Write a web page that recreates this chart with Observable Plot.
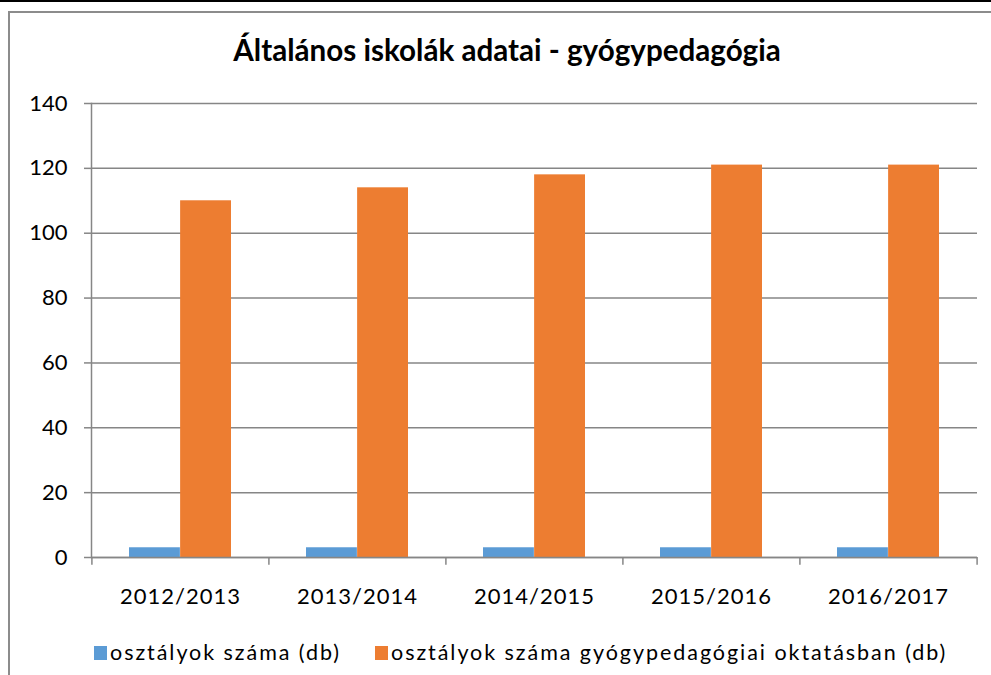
<!DOCTYPE html>
<html><head><meta charset="utf-8">
<script src="https://cdn.jsdelivr.net/npm/d3@7"></script>
<script src="https://cdn.jsdelivr.net/npm/@observablehq/plot@0.6"></script>
<style>
body{margin:0;background:#fff;font-family:Lato,"Open Sans",sans-serif;color:#000;overflow:hidden;}
#wrap{position:relative;width:991px;height:675px;overflow:hidden;background:#fff;}
#topline{position:absolute;left:0;top:0;width:991px;height:2px;background:#000;}
#frame{position:absolute;left:8px;top:11px;width:1000px;height:700px;border-left:2px solid #8c8c8c;border-top:2px solid #8c8c8c;}
#title{position:absolute;left:0;width:1014px;top:32px;text-align:center;font-weight:bold;font-size:29.6px;}
#chart{position:absolute;left:0;top:90px;}
#legend{position:absolute;top:639px;left:94px;font-size:21.5px;white-space:nowrap;letter-spacing:1.95px;}
#legend span.sw{display:inline-block;width:13px;height:14px;margin-right:3px;vertical-align:0px;}
#legend span.it{margin-right:34px;}
.ax text{letter-spacing:1px;}
</style></head>
<body>
<div id="wrap">
<div id="topline"></div>
<div id="frame"></div>
<div id="title">Általános iskolák adatai - gyógypedagógia</div>
<div id="chart"></div>
<div id="legend"></div>
</div>
<script>
const categories = ["2012/2013","2013/2014","2014/2015","2015/2016","2016/2017"];
const seriesNames = ["osztályok száma (db)","osztályok száma gyógypedagógiai oktatásban (db)"];
const osztalyok = [3,3,3,3,3];
const gyogyped = [110,114,118,121,121];
const yTicks = [0,20,40,60,80,100,120,140];
const colors = ["#5B9BD5","#ED7D31"];

const W = 991, H = 530, mL = 91, mR = 14, mT = 13, mB = 63;
const step = (W - mL - mR) / categories.length;
const gray = "#868686";

const d1 = categories.map((c,i)=>({cat:c, v:osztalyok[i]}));
const d2 = categories.map((c,i)=>({cat:c, v:gyogyped[i]}));
const bw = step*(1-0.423);

const plot = Plot.plot({
  width: W, height: H,
  marginLeft: mL, marginRight: mR, marginTop: mT, marginBottom: mB,
  style:{fontFamily:"Lato, 'Open Sans', sans-serif", fontSize:"22px", color:"#000", background:"transparent"},
  x:{type:"band", domain:categories, paddingInner:0.423, paddingOuter:0.2115, label:null},
  y:{domain:[0,140], ticks:yTicks, label:null},
  marks:[
    Plot.gridY(yTicks, {stroke:gray, strokeOpacity:1, strokeWidth:1.5}),
    Plot.barY(d1, {x:"cat", y:"v", fill:colors[0], insetRight: bw/2}),
    Plot.barY(d2, {x:"cat", y:"v", fill:colors[1], insetLeft: bw/2}),
    Plot.ruleY([0], {stroke:gray, strokeWidth:1.5}),
    Plot.frame({anchor:"left", stroke:gray, strokeWidth:1.5}),
    Plot.ruleX(categories, {x:d=>d, dx:-step/2, y1:0, y2:-2.4, stroke:gray, strokeWidth:1.5}),
    Plot.ruleX(categories.slice(-1), {x:d=>d, dx:step/2, y1:0, y2:-2.4, stroke:gray, strokeWidth:1.5}),
    Plot.axisY(yTicks, {tickSize:7, tickPadding:17, stroke:gray, strokeWidth:1.5, fill:"#000", fontSize:22, tickFormat:d=>String(d)}),
    Plot.axisX(categories, {tickSize:0, tickPadding:31, fill:"#000", fontSize:22, className:"ax"})
  ]
});
document.getElementById("chart").appendChild(plot);

const leg = document.getElementById("legend");
seriesNames.forEach((n,i)=>{
  const it = document.createElement("span"); it.className="it";
  const sw = document.createElement("span"); sw.className="sw"; sw.style.background=colors[i];
  it.appendChild(sw); it.appendChild(document.createTextNode(n));
  leg.appendChild(it);
});
</script>
</body></html>
